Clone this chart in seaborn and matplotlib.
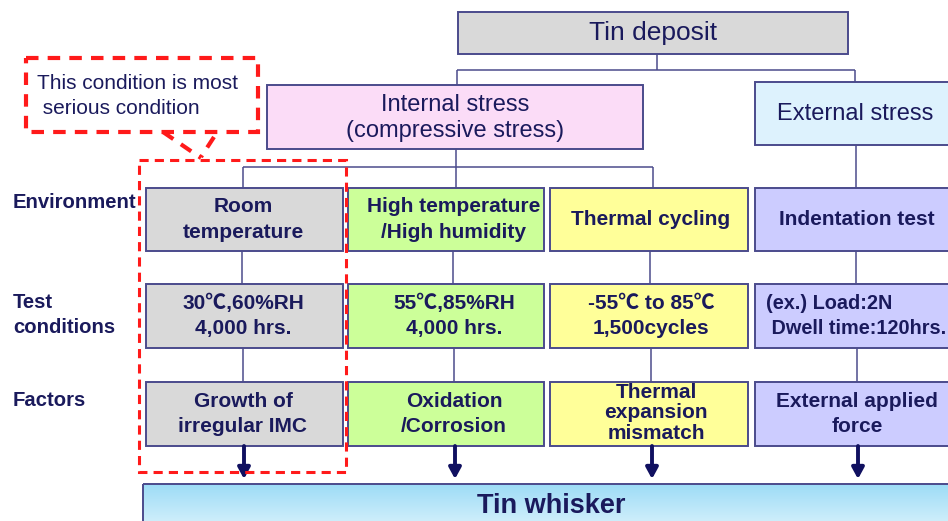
import numpy as np
import matplotlib
matplotlib.use("Agg")
import matplotlib.pyplot as plt
import seaborn as sns
from matplotlib.patches import Rectangle

# ---- content ----
top_label = "Tin deposit"
stress_labels = ["Internal stress\n(compressive stress)", "External stress"]
row_labels = ["Environment", "Test\nconditions", "Factors"]
environments = ["Room\ntemperature", "High temperature\n/High humidity", "Thermal cycling", "Indentation test"]
test_conditions = ["30\u2103,60%RH\n4,000 hrs.", "55\u2103,85%RH\n4,000 hrs.",
                   "-55\u2103 to 85\u2103\n1,500cycles", "(ex.) Load:2N\n Dwell time:120hrs."]
factors = ["Growth of\nirregular IMC", "Oxidation\n/Corrosion", "Thermal\nexpansion\nmismatch",
           "External applied\nforce"]
result_label = "Tin whisker"
callout_text = "This condition is most\n serious condition"
column_colors = ["#d9d9d9", "#ccff99", "#ffff99", "#ccccff"]

sns.set_theme(style="white")
plt.rcParams['font.family'] = ['Liberation Sans', 'Noto Sans CJK JP', 'DejaVu Sans']

NAVY = "#1a1a5c"
EDGE = "#4b4b8c"
RED = "#ff1a1a"
BS = 15  # bold box text size
LS2 = 1.4

fig = plt.figure(figsize=(9.48, 5.21), dpi=100)
ax = fig.add_axes([0, 0, 1, 1])
ax.set_xlim(0, 948)
ax.set_ylim(521, 0)
ax.axis("off")


def box(x0, y0, x1, y1, fc, text=None, size=BS, bold=False, ha="center", tx=None, ls=1.0, ty=None):
    ax.add_patch(Rectangle((x0, y0), x1 - x0, y1 - y0, facecolor=fc, edgecolor=EDGE, lw=1.4, zorder=2))
    if text is not None:
        xx = (x0 + x1) / 2 if tx is None else tx
        yy = (y0 + y1) / 2 if ty is None else ty
        ax.text(xx, yy, text, ha=ha, va="center", fontsize=size, color=NAVY,
                fontweight="bold" if bold else "normal", linespacing=ls, zorder=3)


def line(xs, ys, lw=1.1):
    ax.plot(xs, ys, color=EDGE, lw=lw, zorder=1, solid_capstyle="butt")


# top box
box(458, 12, 848, 54, "#d9d9d9", top_label, size=19)
line([657, 657], [54, 70])
line([457, 855], [70, 70])
line([457, 457], [70, 85])
line([855, 855], [70, 82])

# stress boxes
box(267, 85, 643, 149, "#fbdcf7", stress_labels[0], size=17, ls=1.2, tx=455, ty=118)
box(755, 82, 960, 145, "#ddf2fd", stress_labels[1], size=17, tx=855)

line([456, 456], [149, 188])
line([243, 653], [167, 167])
line([243, 243], [167, 188])
line([653, 653], [167, 188])
line([856, 856], [145, 188])

# columns
cols = [(146, 343), (348, 544), (550, 748), (755, 960)]
centers = [243, 454, 651, 857]
rows = [(188, 251), (284, 348), (382, 446)]
for i, (x0, x1) in enumerate(cols):
    tx = centers[i]
    box(x0, rows[0][0], x1, rows[0][1], column_colors[i], environments[i], bold=True, tx=tx, ls=LS2)
    if i == 3:
        ax.add_patch(Rectangle((x0, rows[1][0]), x1 - x0, rows[1][1] - rows[1][0],
                               facecolor=column_colors[i], edgecolor=EDGE, lw=1.4, zorder=2))
        ax.text(766, (rows[1][0] + rows[1][1]) / 2, test_conditions[i], ha="left", va="center",
                fontsize=14.3, color=NAVY, fontweight="bold", linespacing=LS2, zorder=3)
    else:
        box(x0, rows[1][0], x1, rows[1][1], column_colors[i], test_conditions[i], bold=True,
            tx=tx, ls=1.4)
    if i == 2:
        box(x0, rows[2][0], x1, rows[2][1], column_colors[i], factors[i], bold=True, tx=656,
            ls=1.1, ty=413)
    else:
        box(x0, rows[2][0], x1, rows[2][1], column_colors[i], factors[i], bold=True, tx=tx, ls=LS2)
    line([centers[i] - 1, centers[i] - 1], [251, 284])
    line([centers[i], centers[i]], [348, 382])
    ax.annotate("", xy=(centers[i] + 1, 479), xytext=(centers[i] + 1, 446),
                arrowprops=dict(arrowstyle="-|>,head_width=0.3,head_length=0.55", color="#101060",
                                lw=2.8, shrinkA=0, shrinkB=0), zorder=3)

# row labels
ax.text(13, 203, row_labels[0], ha="left", va="center", fontsize=14.6, fontweight="bold", color=NAVY)
ax.text(13, 315, row_labels[1], ha="left", va="center", fontsize=14.6, fontweight="bold", color=NAVY,
        linespacing=LS2)
ax.text(13, 400, row_labels[2], ha="left", va="center", fontsize=14.6, fontweight="bold", color=NAVY)

# Tin whisker box with gradient
x0, y0, x1, y1 = 143, 484, 960, 530
grad = np.linspace(0, 1, 100).reshape(-1, 1)
cmap = matplotlib.colors.LinearSegmentedColormap.from_list("g", ["#9ddcf6", "#d9f2fc"])
im = ax.imshow(grad, extent=(x0, x1, y1, y0), cmap=cmap, aspect="auto", zorder=1)
rect = Rectangle((x0, y0), x1 - x0, y1 - y0, facecolor="none", edgecolor=EDGE, lw=1.4, zorder=2)
ax.add_patch(rect)
im.set_clip_path(rect)
ax.text(551, 506, result_label, ha="center", va="center", fontsize=19.5, fontweight="bold", color=NAVY,
        zorder=3)
ax.set_xlim(0, 948)
ax.set_ylim(521, 0)

# callout
ax.add_patch(Rectangle((26, 58), 232, 74, facecolor="none", edgecolor=RED, lw=3, ls=(0, (3, 2.2)),
                       zorder=4))
ax.text(37, 96, callout_text, ha="left", va="center", fontsize=15, color=NAVY, linespacing=1.35, zorder=4)
ax.plot([163, 201], [132, 158], color=RED, lw=3, ls=(0, (3, 2.2)), zorder=4)
ax.plot([214, 201], [137, 157], color=RED, lw=3, ls=(0, (3, 2.2)), zorder=4)
ax.add_patch(Rectangle((139, 160), 207, 312, facecolor="none", edgecolor=RED, lw=2.2, ls=(0, (3, 2)),
                       zorder=4))

fig.savefig("out.png", dpi=100)
